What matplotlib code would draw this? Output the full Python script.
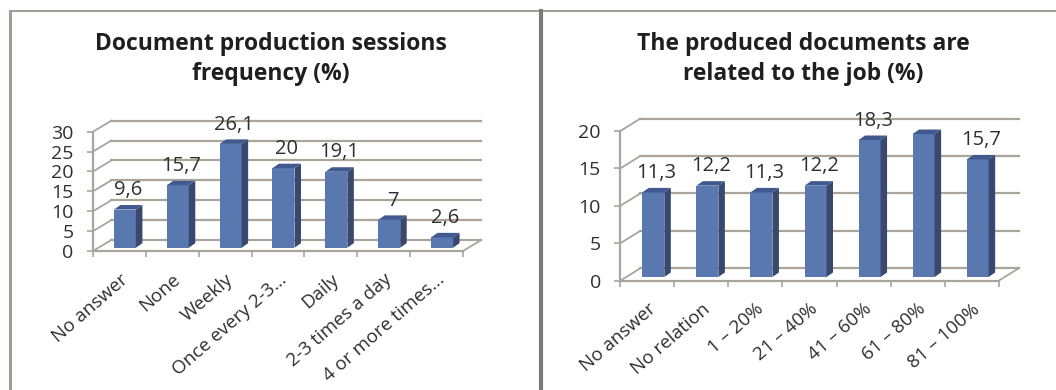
import matplotlib
matplotlib.use("Agg")
import matplotlib.pyplot as plt
from matplotlib.patches import Polygon
from matplotlib.lines import Line2D

plt.rcParams["font.family"] = ["Open Sans", "DejaVu Sans"]

FIG_W, FIG_H = 1056, 390

freq_title = "Document production sessions\nfrequency (%)"
freq_labels = ["No answer", "None", "Weekly", "Once every 2-3...", "Daily",
               "2-3 times a day", "4 or more times..."]
freq_values = [9.6, 15.7, 26.1, 20, 19.1, 7, 2.6]
freq_value_text = ["9,6", "15,7", "26,1", "20", "19,1", "7", "2,6"]
freq_yticks = [0, 5, 10, 15, 20, 25, 30]

job_title = "The produced documents are\nrelated to the job (%)"
job_labels = ["No answer", "No relation", "1 \u2013 20%", "21 \u2013 40%",
              "41 \u2013 60%", "61 \u2013 80%", "81 \u2013 100%"]
job_values = [11.3, 12.2, 11.3, 12.2, 18.3, 19.1, 15.7]
job_value_text = ["11,3", "12,2", "11,3", "12,2", "18,3", "19,1", "15,7"]
job_yticks = [0, 5, 10, 15, 20]

WALL = "#aaa59b"
TEXT = "#2f2f2f"
FRONT = "#5a78b0"
SIDE = "#39486f"
TOP = "#40598f"


def draw_panel(fig, box, ymax, labels, values, value_text, yticks, title,
               title_x, depth):
    # box is left, right, top, bottom of the front plane in pixels
    left, right, top, bottom = box
    ax = fig.add_axes([left / FIG_W, 1 - bottom / FIG_H,
                       (right - left) / FIG_W, (bottom - top) / FIG_H])
    n = len(values)
    ax.set_xlim(0, n)
    ax.set_ylim(0, ymax)
    ax.patch.set_alpha(0)

    # pixel sizes converted to data units
    ux = n / (right - left)
    uy = ymax / (bottom - top)
    dx, dy = depth[0] * ux, depth[1] * uy

    # back wall, floor and the diagonals joining them to the front plane
    for t in yticks:
        ax.add_line(Line2D([dx, n + dx], [t + dy, t + dy], color=WALL, lw=1.6,
                           clip_on=False, zorder=1))
        ax.add_line(Line2D([0, dx], [t, t + dy], color=WALL, lw=1.3,
                           clip_on=False, zorder=1))
    ax.add_line(Line2D([n, n + dx], [0, dy], color=WALL, lw=1.3,
                       clip_on=False, zorder=1))

    # 3D columns: front face from ax.bar, side and top as polygons
    bar_w = 22 * ux
    side_x, side_y = 6.5 * ux, 4.5 * uy
    base_x, base_y = 0.3 * dx, 0.3 * dy
    centers = [i + 0.5 + base_x for i in range(n)]
    ax.bar(centers, values, width=bar_w, bottom=base_y, color=FRONT,
           clip_on=False, zorder=3)
    for c, v, txt in zip(centers, values, value_text):
        x0, x1 = c - bar_w / 2, c + bar_w / 2
        y0, y1 = base_y, base_y + v
        ax.add_patch(Polygon([(x1, y0), (x1 + side_x, y0 + side_y),
                              (x1 + side_x, y1 + side_y), (x1, y1)],
                             color=SIDE, lw=0, clip_on=False, zorder=3))
        ax.add_patch(Polygon([(x0, y1), (x0 + side_x, y1 + side_y),
                              (x1 + side_x, y1 + side_y), (x1, y1)],
                             color=TOP, lw=0, clip_on=False, zorder=3))
        ax.annotate(txt, (c + side_x / 2, y1 + side_y), xytext=(0, 3.5),
                    textcoords="offset points", ha="center", va="bottom",
                    fontsize=14.5, color=TEXT, zorder=4)

    for name in ("top", "right"):
        ax.spines[name].set_visible(False)
    for name in ("left", "bottom"):
        ax.spines[name].set_color(WALL)
        ax.spines[name].set_linewidth(1.6)

    ax.set_yticks(yticks)
    ax.tick_params(axis="y", length=4, width=1.2, color=WALL, labelcolor=TEXT,
                   labelsize=14, pad=10)
    # category boundaries carry the ticks, labels sit between them
    ax.set_xticks(range(n + 1))
    ax.set_xticklabels([])
    ax.tick_params(axis="x", which="major", direction="out", length=4,
                   width=1.2, color=WALL)
    ax.set_xticks([i + 0.5 for i in range(n)], minor=True)
    ax.set_xticklabels(labels, minor=True, rotation=41, ha="right",
                       rotation_mode="anchor", fontsize=13.5, color=TEXT)
    ax.tick_params(axis="x", which="minor", length=0, pad=14)

    fig.text(title_x / FIG_W, 1 - 59 / FIG_H, title, ha="center", va="center",
             fontsize=16.5, fontweight="bold", color="#1f1f1f", linespacing=1.32)


fig = plt.figure(figsize=(FIG_W / 100, FIG_H / 100), dpi=100)

draw_panel(fig, (93, 463, 131.7, 251), 30, freq_labels, freq_values,
           freq_value_text, freq_yticks, freq_title, 270.5, (18.3, 11))
draw_panel(fig, (620.3, 998.7, 131, 280.7), 20, job_labels, job_values,
           job_value_text, job_yticks, job_title, 803.5, (20, 12.4))

# panel frame lines
frame = "#a09c92"
fig.add_artist(Line2D([10 / FIG_W, 10 / FIG_W], [0, 1 - 11 / FIG_H], color=frame, lw=2.2))
fig.add_artist(Line2D([10 / FIG_W, 1], [1 - 11 / FIG_H, 1 - 11 / FIG_H], color=frame, lw=1.4))
fig.add_artist(Line2D([541 / FIG_W, 541 / FIG_W], [0, 1 - 11 / FIG_H], color="#7d7a73", lw=3))

fig.savefig("out.png", dpi=100)
